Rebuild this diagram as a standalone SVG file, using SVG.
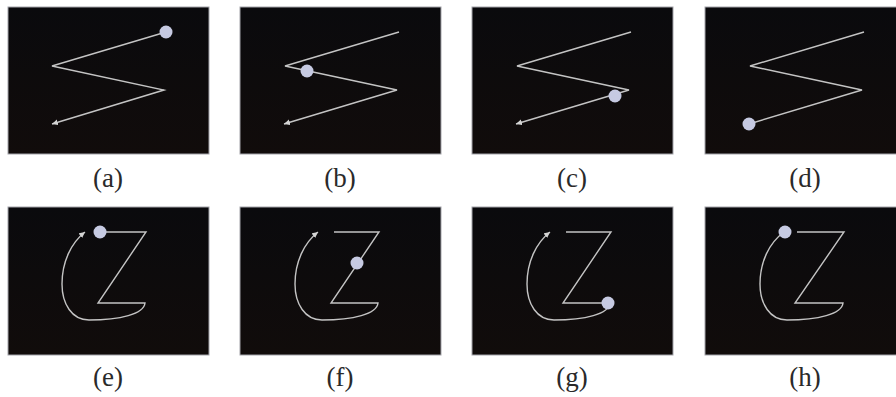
<svg xmlns="http://www.w3.org/2000/svg" width="896" height="397" viewBox="0 0 896 397">
<style>
  .frame { fill: url(#bg); stroke: #a3a3aa; stroke-width: 1; }
  .trace { fill: none; stroke: #c4c4c4; stroke-width: 1.4; stroke-linejoin: miter; }
  .arrow { marker-end: url(#head); }
  .dot { fill: #c6cae2; }
  .lbl { font-family: "Liberation Serif", "DejaVu Serif", serif; font-size: 27px; fill: #2a2a2a; text-anchor: middle; }
</style>
<defs>
  <linearGradient id="bg" x1="0" y1="0" x2="0" y2="1">
    <stop offset="0" stop-color="#0a0a0d"/>
    <stop offset="1" stop-color="#110c0b"/>
  </linearGradient>
  <marker id="head" markerUnits="userSpaceOnUse" markerWidth="8" markerHeight="8" refX="6" refY="3" orient="auto">
    <path d="M0,0 L6,3 L0,6 Z" fill="#d4d4d4"/>
  </marker>
</defs>
<rect width="896" height="397" fill="#ffffff"/>

<g id="panel-a" transform="translate(8,7)">
  <rect class="frame" x="0" y="0" width="201" height="147"/>
  <g id="connectors-a"><path class="trace arrow" d="M158,25 L44,59 L156,83 L44,117"/></g>
  <circle class="dot" cx="158" cy="25" r="6.5"/>
</g>
<g id="panel-b" transform="translate(240,7)">
  <rect class="frame" x="0" y="0" width="201" height="147"/>
  <g id="connectors-b"><path class="trace arrow" d="M159,25 L45,59 L157,83 L44,117"/></g>
  <circle class="dot" cx="67" cy="64" r="6.5"/>
</g>
<g id="panel-c" transform="translate(472,7)">
  <rect class="frame" x="0" y="0" width="201" height="147"/>
  <g id="connectors-c"><path class="trace arrow" d="M159,25 L45,59 L157,83 L44,117"/></g>
  <circle class="dot" cx="143" cy="89" r="6.5"/>
</g>
<g id="panel-d" transform="translate(705,7)">
  <rect class="frame" x="0" y="0" width="201" height="147"/>
  <g id="connectors-d"><path class="trace" d="M159,25 L45,59 L157,83 L44,117"/></g>
  <circle class="dot" cx="44" cy="117" r="6.5"/>
</g>

<g id="panel-e" transform="translate(8,207)">
  <rect class="frame" x="0" y="0" width="201" height="148"/>
  <g id="connectors-e"><path class="trace arrow" d="M92,25 L138,25 L90,96 L137,96 C136,107 112,113 81,113 C64,113 54,97 54,77 C54,55 63,36 77,25"/></g>
  <circle class="dot" cx="92" cy="25" r="6.5"/>
</g>
<g id="panel-f" transform="translate(240,207)">
  <rect class="frame" x="0" y="0" width="201" height="148"/>
  <g id="connectors-f"><path class="trace arrow" d="M94,25 L139,25 L91,96 L138,96 C137,107 113,113 82,113 C65,113 55,97 55,77 C55,55 64,36 78,25"/></g>
  <circle class="dot" cx="117" cy="56" r="6.5"/>
</g>
<g id="panel-g" transform="translate(472,207)">
  <rect class="frame" x="0" y="0" width="201" height="148"/>
  <g id="connectors-g"><path class="trace arrow" d="M94,25 L139,25 L91,96 L138,96 C137,107 113,113 82,113 C65,113 55,97 55,77 C55,55 64,36 78,25"/></g>
  <circle class="dot" cx="136" cy="96" r="6.5"/>
</g>
<g id="panel-h" transform="translate(705,207)">
  <rect class="frame" x="0" y="0" width="201" height="148"/>
  <g id="connectors-h"><path class="trace" d="M92,25 L139,25 L90,96 L138,96 C137,107 113,113 82,113 C65,113 55,97 55,77 C55,55 64,36 79,25"/></g>
  <circle class="dot" cx="80" cy="25" r="6.5"/>
</g>

<g id="labels">
  <text class="lbl" x="108" y="187">(a)</text>
  <text class="lbl" x="340" y="187">(b)</text>
  <text class="lbl" x="572" y="187">(c)</text>
  <text class="lbl" x="805" y="187">(d)</text>
  <text class="lbl" x="108" y="386">(e)</text>
  <text class="lbl" x="340" y="386">(f)</text>
  <text class="lbl" x="572" y="386">(g)</text>
  <text class="lbl" x="805" y="386">(h)</text>
</g>
</svg>
